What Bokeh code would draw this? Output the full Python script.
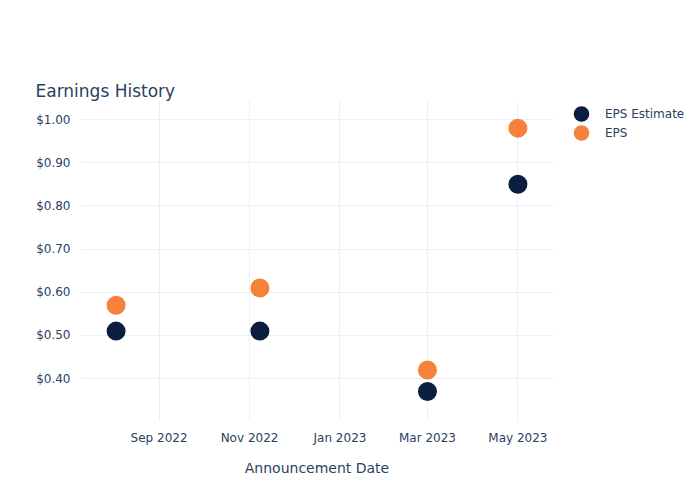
from datetime import datetime
from bokeh.plotting import figure
from bokeh.models import (ColumnDataSource, FixedTicker, DatetimeTickFormatter,
                          NumeralTickFormatter, Legend, LegendItem, Title, Range1d)
from bokeh.embed import file_html
from bokeh.resources import INLINE

dates = ["2022-08-03", "2022-11-08", "2023-03-01", "2023-05-01"]
eps_estimate = [0.51, 0.51, 0.37, 0.85]
eps_actual = [0.57, 0.61, 0.42, 0.98]
x_tick_dates = ["2022-09-01", "2022-11-01", "2023-01-01", "2023-03-01", "2023-05-01"]
y_ticks = [0.4, 0.5, 0.6, 0.7, 0.8, 0.9, 1.0]

def ms(s):
    return datetime.strptime(s, "%Y-%m-%d").timestamp() * 1000.0

xs = [datetime.strptime(d, "%Y-%m-%d") for d in dates]
src = ColumnDataSource(dict(x=xs, est=eps_estimate, eps=eps_actual))

FONT = "DejaVu Sans"
TXT = "#2a3f5f"

p = figure(frame_width=473, frame_height=320, x_axis_type="datetime",
           output_backend="svg", toolbar_location=None,
           x_range=Range1d(ms("2022-07-10"), ms("2023-05-25")),
           y_range=Range1d(0.303, 1.044),
           min_border_left=80, min_border_right=147,
           min_border_top=100, min_border_bottom=80)
p.outline_line_color = None
p.background_fill_color = "white"

# size + line_width gives a 19 px dot in the plot and a ~16 px dot in the legend
r1 = p.scatter("x", "est", source=src, size=11, line_width=8, color="#0b1e3f")
r2 = p.scatter("x", "eps", source=src, size=11, line_width=8, color="#f7803a")

p.xaxis.ticker = FixedTicker(ticks=[ms(d) for d in x_tick_dates])
p.xaxis.formatter = DatetimeTickFormatter(months="%b %Y", days="%b %Y", years="%b %Y")
p.yaxis.ticker = FixedTicker(ticks=y_ticks)
p.yaxis.formatter = NumeralTickFormatter(format="$0.00")

for ax in (p.xaxis, p.yaxis):
    ax.axis_line_color = None
    ax.major_tick_line_color = None
    ax.minor_tick_line_color = None
    ax.major_label_text_font = FONT
    ax.major_label_text_font_size = "12px"
    ax.major_label_text_color = TXT
p.xaxis.major_label_standoff = 4
p.yaxis.major_label_standoff = 4
p.xaxis.axis_label = "Announcement Date"
p.xaxis.axis_label_text_font = FONT
p.xaxis.axis_label_text_font_size = "14px"
p.xaxis.axis_label_text_font_style = "normal"
p.xaxis.axis_label_text_color = TXT
p.xaxis.axis_label_standoff = 12

p.xgrid.grid_line_color = "#ebf0f8"
p.ygrid.grid_line_color = "#ebf0f8"

legend = Legend(items=[LegendItem(label="EPS Estimate", renderers=[r1]),
                       LegendItem(label="EPS", renderers=[r2])],
                location="top_left", padding=0, margin=4, spacing=0,
                glyph_width=48, glyph_height=19, label_height=19,
                label_standoff=0, border_line_color=None,
                background_fill_alpha=0,
                label_text_font=FONT, label_text_font_size="12px",
                label_text_color=TXT)
p.add_layout(legend, "right")

# invisible spacer panel between the frame and the title, then the title itself
p.add_layout(Title(text="x", text_font=FONT, text_font_size="17px",
                   text_alpha=0, standoff=23), "above")
p.add_layout(Title(text="Earnings History", text_font=FONT, text_font_size="17px",
                   text_font_style="normal", text_color=TXT, align="left",
                   offset=-45, standoff=0), "above")

open("out.html", "w").write(file_html(p, INLINE))
